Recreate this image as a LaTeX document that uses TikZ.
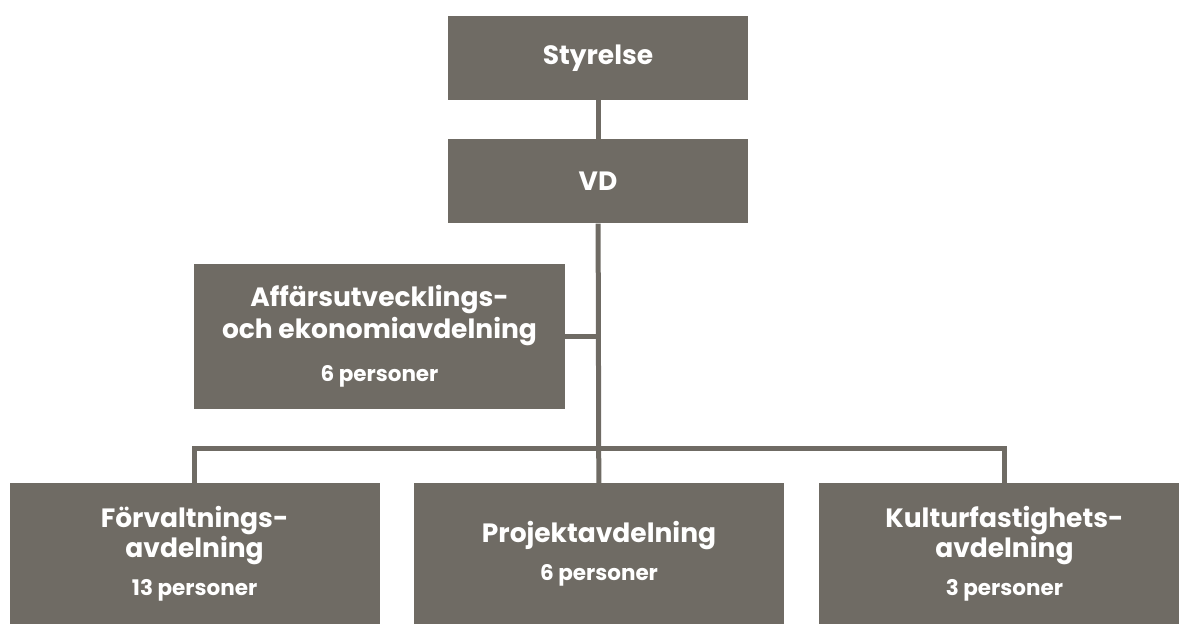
\documentclass[tikz,border=0pt]{standalone}
\usepackage{fontspec}
\setmainfont{Poppins}
\usepackage{xcolor}
\usetikzlibrary{positioning}
\definecolor{orggray}{HTML}{6F6B64}
\newcommand{\persons}[1]{{\fontsize{21.5}{26}\selectfont #1}}
\tikzset{
  orgbox/.style={rectangle, fill=orggray, text=white, align=center,
                 inner sep=0pt, font=\fontsize{26.5}{30}\selectfont\bfseries},
  topbox/.style={orgbox, minimum width=300pt, minimum height=84pt},
  deptbox/.style={orgbox, minimum width=370pt, minimum height=141pt},
  orgline/.style={draw=orggray, line width=5pt},
}
\begin{document}
\begin{tikzpicture}[x=1pt, y=1pt, node distance=39pt and 34pt]
  \useasboundingbox (0,0) rectangle (1179,-624);
  \clip (0,0) rectangle (1179,-624);

  \node[topbox] (styrelse) at (598,-58) {Styrelse};
  \node[topbox, below=of styrelse] (vd) {VD};

  \node[orgbox, font=\fontsize{26.5}{32}\selectfont\bfseries,
        minimum width=371pt, minimum height=145pt] (affars) at (379.5,-336.5)
    {Affärsutvecklings-\\ och ekonomiavdelning\\[11pt] \persons{6 personer}};

  \node[deptbox] (projekt) at (599,-553.5)
    {Projektavdelning\\[8pt] \persons{6 personer}};
  \node[deptbox, left=of projekt] (forvaltning)
    {Förvaltnings-\\ avdelning\\[8pt] \persons{13 personer}};
  \node[deptbox, right=35pt of projekt] (kultur)
    {Kulturfastighets-\\ avdelning\\[8pt] \persons{3 personer}};

  \coordinate (bus) at (599,-448);

  \draw[orgline] (styrelse) -- (vd);
  \draw[orgline] (vd) -- (projekt);
  \draw[orgline] (affars.east) -- (affars.east -| vd.south);
  \draw[orgline, line join=miter] (forvaltning.north) -- (forvaltning.north |- bus)
    -- (kultur.north |- bus) -- (kultur.north);

\end{tikzpicture}
\end{document}
